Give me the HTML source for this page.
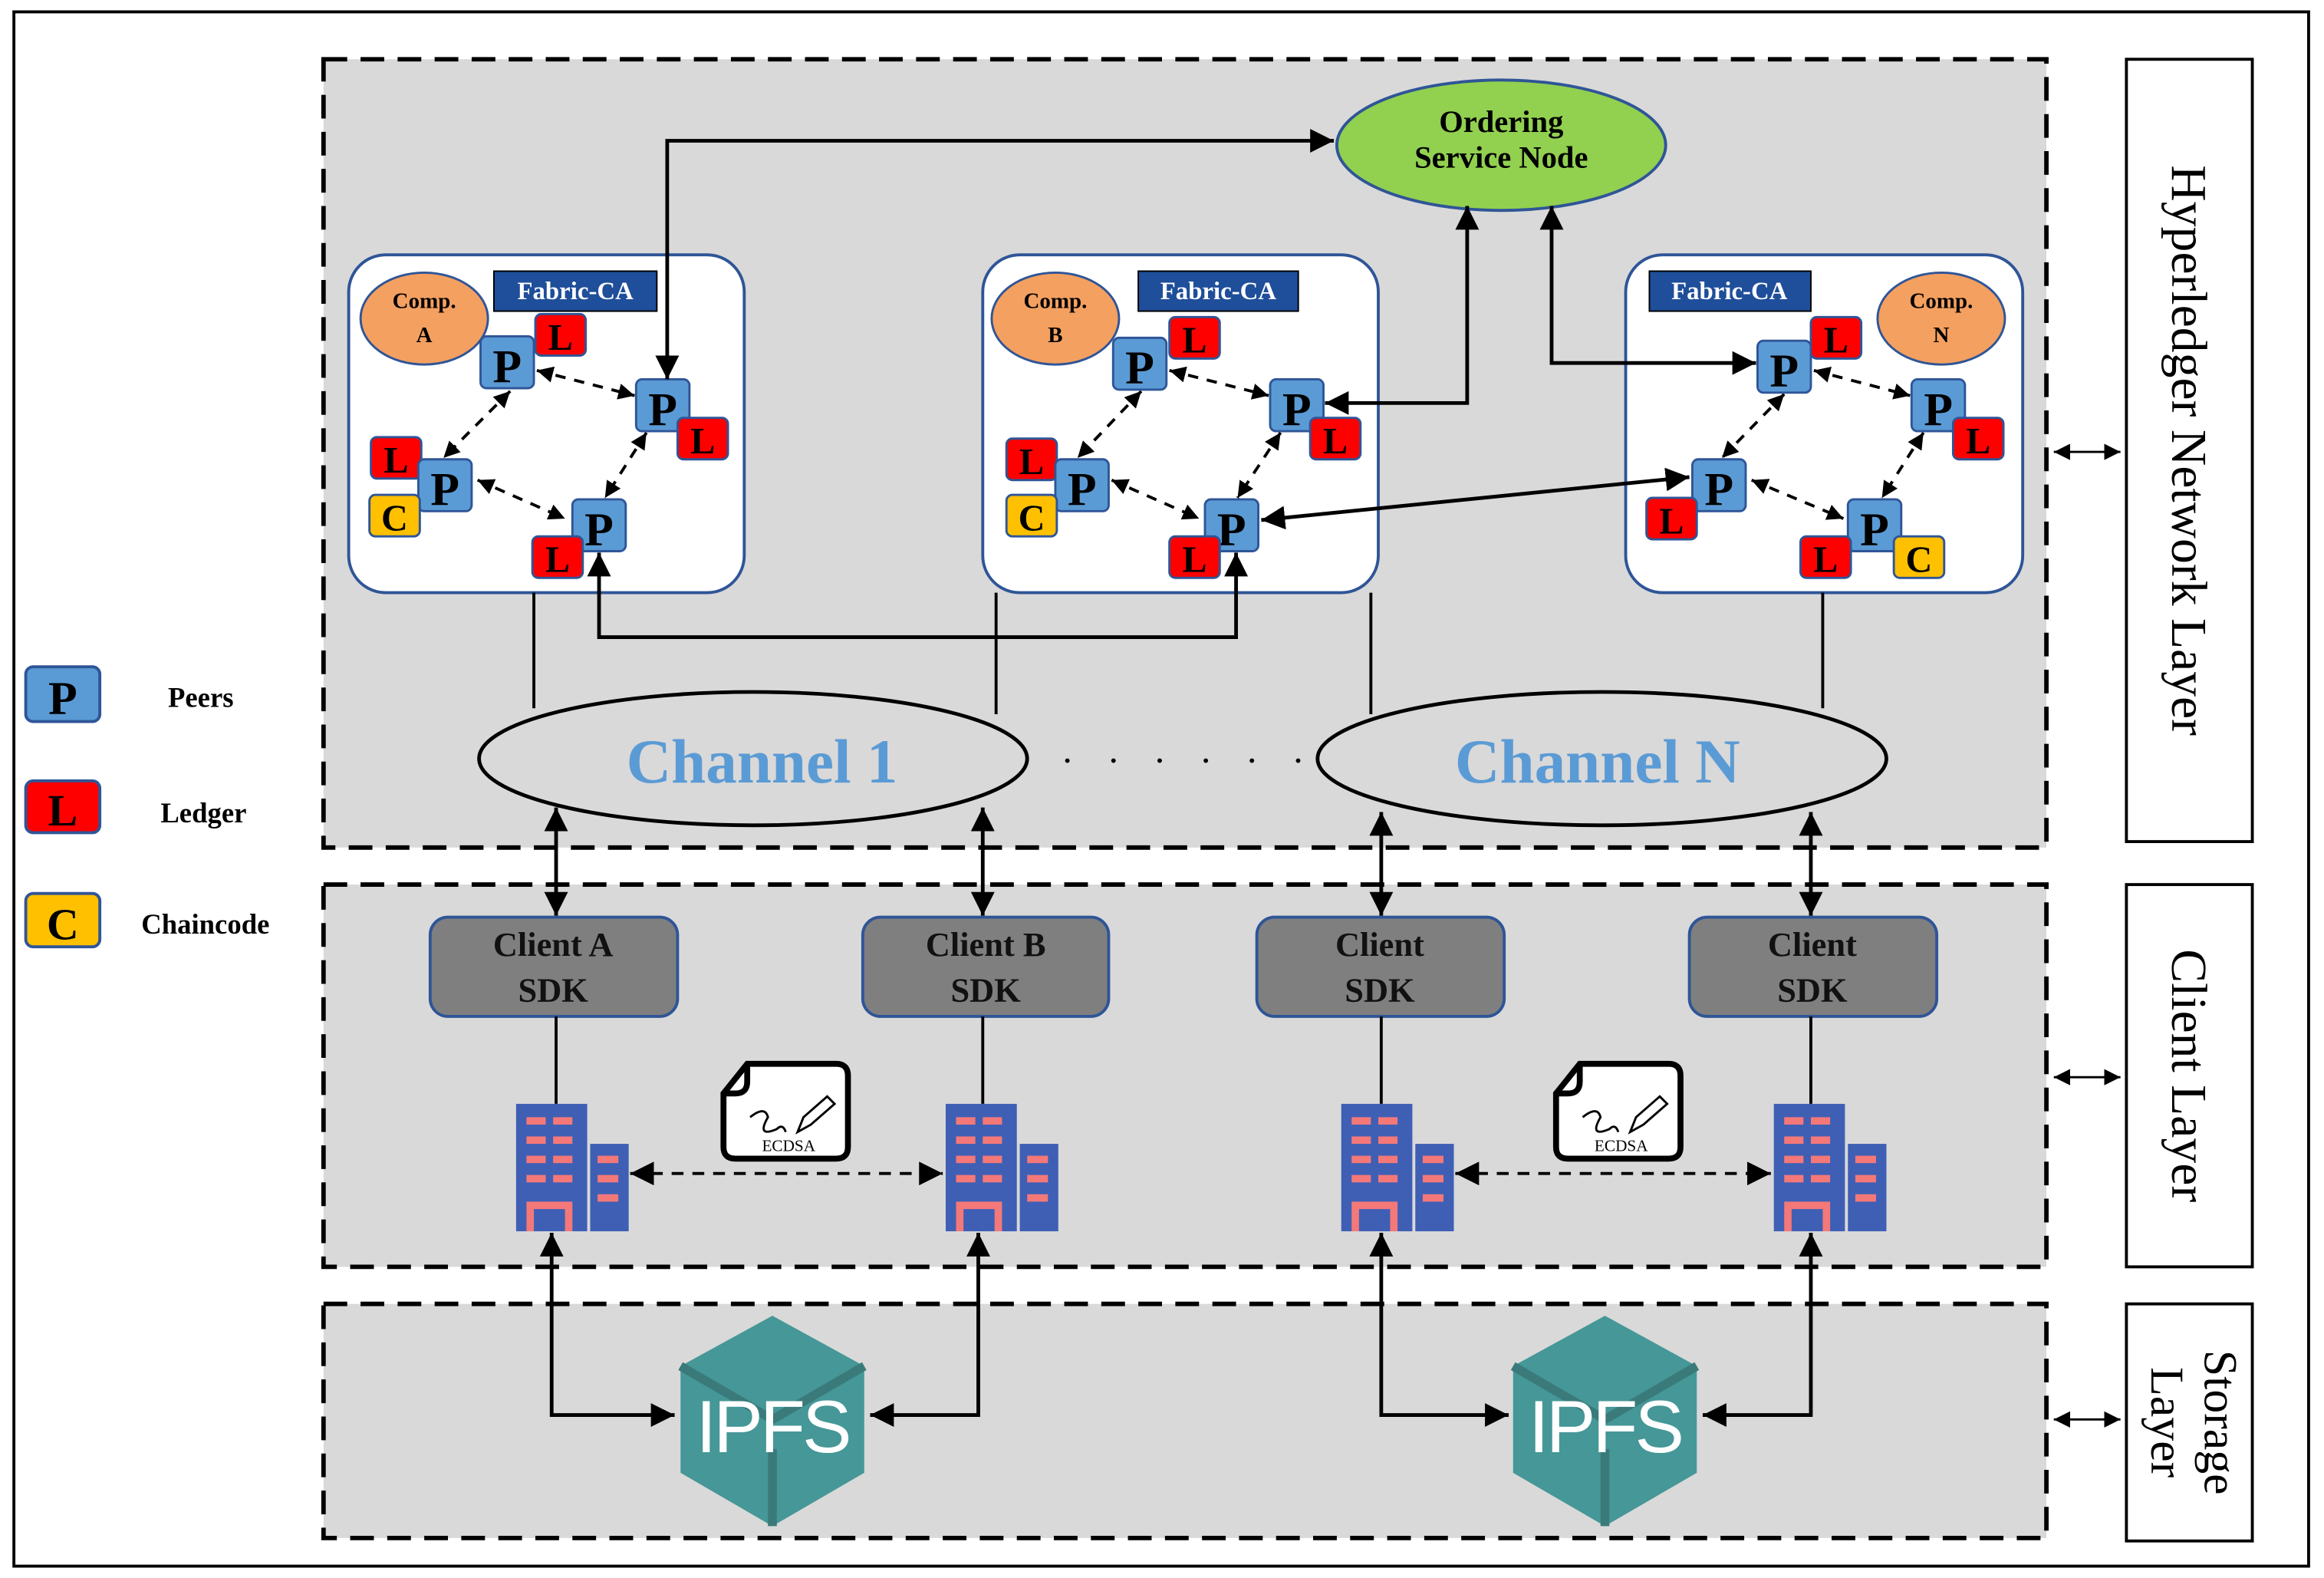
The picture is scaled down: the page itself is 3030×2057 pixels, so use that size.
<!DOCTYPE html>
<html><head><meta charset="utf-8"><style>html,body{margin:0;padding:0;background:#fff}svg{display:block}svg text{font-family:"Liberation Serif",serif}</style></head>
<body>
<svg width="3030" height="2057" viewBox="0 0 1568 1065" xmlns="http://www.w3.org/2000/svg" font-family="'Liberation Serif', serif">
<defs>
<marker id="a" viewBox="0 0 10 10" refX="10" refY="5" markerWidth="16" markerHeight="16" markerUnits="userSpaceOnUse" orient="auto-start-reverse"><path d="M0,0 L10,5 L0,10 z" fill="#000"/></marker>
<marker id="s" viewBox="0 0 10 10" refX="10" refY="5" markerWidth="11" markerHeight="11" markerUnits="userSpaceOnUse" orient="auto-start-reverse"><path d="M0,0 L10,5 L0,10 z" fill="#000"/></marker>
<g id="P"><rect x="0" y="0" width="36" height="35" rx="4" fill="#5b9bd5" stroke="#2f5597" stroke-width="1.5"/><text x="18" y="31" font-size="32" font-weight="bold" text-anchor="middle">P</text></g>
<g id="L"><rect x="0" y="0" width="34" height="28" rx="4" fill="#ff0000" stroke="#2f5597" stroke-width="1.5"/><text x="17" y="24" font-size="25" font-weight="bold" text-anchor="middle">L</text></g>
<g id="C"><rect x="0" y="0" width="34" height="28" rx="4" fill="#ffc000" stroke="#2f5597" stroke-width="1.5"/><text x="17" y="24" font-size="25" font-weight="bold" text-anchor="middle">C</text></g>
<g id="bld"><rect x="0" y="0" width="48" height="86" fill="#3f5fb5"/><rect x="50" y="27" width="26" height="59" fill="#3f5fb5"/>
<g fill="#f47878"><rect x="7" y="9" width="13" height="5"/><rect x="25" y="9" width="13" height="5"/><rect x="7" y="22" width="13" height="5"/><rect x="25" y="22" width="13" height="5"/><rect x="7" y="35" width="13" height="5"/><rect x="25" y="35" width="13" height="5"/><rect x="7" y="48" width="13" height="5"/><rect x="25" y="48" width="13" height="5"/><rect x="55" y="35" width="14" height="5"/><rect x="55" y="48" width="14" height="5"/><rect x="55" y="61" width="14" height="5"/><path d="M7,86 V66 H38 V86 H33 V71 H12 V86z"/></g></g>
<g id="doc"><path d="M18,2 H78 Q86,2 86,10 V58 Q86,66 78,66 H10 Q2,66 2,58 V22 Z" fill="#fff" stroke="#000" stroke-width="4"/><path d="M18,2 V14 Q18,22 10,22 H2" fill="none" stroke="#000" stroke-width="4"/><path d="M20,38 q10,-8 12,0 q-8,14 6,8 q4,-4 6,2" fill="none" stroke="#000" stroke-width="1.5"/><path d="M52,48 l4,-10 l16,-14 l5,5 l-16,14 z" fill="none" stroke="#000" stroke-width="1.5"/><text x="46" y="61" font-size="11" text-anchor="middle">ECDSA</text></g>
<g id="ipfs"><polygon points="0,-70 62,-36 62,36 0,72 -62,36 -62,-36" fill="#469797"/><polyline points="-62,-36 0,0 62,-36" fill="none" stroke="#3a7a7a" stroke-width="6"/><line x1="0" y1="20" x2="0" y2="72" stroke="#3a7a7a" stroke-width="6"/><text x="0" y="22" style="font-family:'Liberation Sans',sans-serif" font-size="50" fill="#fff" text-anchor="middle" letter-spacing="-2">IPFS</text></g>
</defs>
<rect x="0" y="0" width="1568" height="1065" fill="#fff"/>
<rect x="9" y="8" width="1549" height="1049" fill="none" stroke="#000" stroke-width="2"/>
<g fill="#d9d9d9" stroke="#000" stroke-width="3" stroke-dasharray="16,9">
<rect x="218" y="40" width="1163" height="532"/>
<rect x="218" y="597" width="1163" height="258"/>
<rect x="218" y="880" width="1163" height="158"/>
</g>
<g fill="#fff" stroke="#000" stroke-width="2">
<rect x="1435" y="40" width="85" height="528"/><rect x="1435" y="597" width="85" height="258"/><rect x="1435" y="880" width="85" height="160"/>
</g>
<g font-size="34" text-anchor="middle">
<text transform="translate(1478,304) rotate(90)" y="12">Hyperledger Network Layer</text>
<text transform="translate(1478,726) rotate(90)" y="12">Client Layer</text>
<text transform="translate(1478,960) rotate(90)" font-size="32"><tspan x="0" y="-10">Storage</tspan><tspan x="0" y="26">Layer</tspan></text>
</g>
<g stroke="#000" stroke-width="1.5" marker-start="url(#s)" marker-end="url(#s)">
<line x1="1386" y1="305" x2="1431" y2="305"/><line x1="1386" y1="727" x2="1431" y2="727"/><line x1="1386" y1="958" x2="1431" y2="958"/>
</g>
<g fill="#fff" stroke="#2f5597" stroke-width="2"><rect x="235" y="172" width="267" height="228" rx="25"/><rect x="663" y="172" width="267" height="228" rx="25"/><rect x="1097" y="172" width="268" height="228" rx="25"/></g>
<ellipse cx="1013" cy="98" rx="111" ry="44" fill="#92d050" stroke="#2f5597" stroke-width="2"/>
<text x="1013" y="89" font-size="21" font-weight="bold" text-anchor="middle">Ordering</text>
<text x="1013" y="113" font-size="21" font-weight="bold" text-anchor="middle">Service Node</text>
<g>
<ellipse cx="286" cy="215" rx="43" ry="31" fill="#f4a060" stroke="#2f5597" stroke-width="1.5"/>
<text x="286" y="208" font-size="15" font-weight="bold" text-anchor="middle">Comp.</text><text x="286" y="231" font-size="15" font-weight="bold" text-anchor="middle">A</text>
<rect x="333" y="183" width="110" height="27" fill="#1f4e9a" stroke="#000"/><text x="388" y="202" font-size="17" font-weight="bold" fill="#fff" text-anchor="middle">Fabric-CA</text>
</g>
<g>
<ellipse cx="712" cy="215" rx="43" ry="31" fill="#f4a060" stroke="#2f5597" stroke-width="1.5"/>
<text x="712" y="208" font-size="15" font-weight="bold" text-anchor="middle">Comp.</text><text x="712" y="231" font-size="15" font-weight="bold" text-anchor="middle">B</text>
<rect x="768" y="183" width="108" height="27" fill="#1f4e9a" stroke="#000"/><text x="822" y="202" font-size="17" font-weight="bold" fill="#fff" text-anchor="middle">Fabric-CA</text>
</g>
<g>
<ellipse cx="1310" cy="215" rx="43" ry="31" fill="#f4a060" stroke="#2f5597" stroke-width="1.5"/>
<text x="1310" y="208" font-size="15" font-weight="bold" text-anchor="middle">Comp.</text><text x="1310" y="231" font-size="15" font-weight="bold" text-anchor="middle">N</text>
<rect x="1113" y="183" width="109" height="27" fill="#1f4e9a" stroke="#000"/><text x="1167" y="202" font-size="17" font-weight="bold" fill="#fff" text-anchor="middle">Fabric-CA</text>
</g>
<g stroke="#000" stroke-width="2" stroke-dasharray="7,6" marker-start="url(#s)" marker-end="url(#s)">
<line x1="362" y1="250" x2="428" y2="267"/><line x1="344" y1="264" x2="299" y2="309"/><line x1="322" y1="324" x2="381" y2="350"/><line x1="436" y1="292" x2="408" y2="336"/>
<line x1="789" y1="250" x2="856" y2="267"/><line x1="770" y1="264" x2="727" y2="309"/><line x1="750" y1="324" x2="809" y2="350"/><line x1="864" y1="292" x2="835" y2="336"/>
<line x1="1224" y1="250" x2="1289" y2="267"/><line x1="1204" y1="266" x2="1162" y2="309"/><line x1="1182" y1="324" x2="1244" y2="350"/><line x1="1298" y1="292" x2="1270" y2="336"/>
</g>
<use href="#P" x="324" y="227"/><use href="#L" x="361" y="212"/>
<use href="#P" x="429" y="256"/><use href="#L" x="457" y="282"/>
<use href="#L" x="250" y="295"/><use href="#P" x="282" y="310"/><use href="#C" x="249" y="334"/>
<use href="#P" x="386" y="337"/><use href="#L" x="359" y="362"/>
<use href="#P" x="751" y="228"/><use href="#L" x="789" y="214"/>
<use href="#P" x="857" y="256"/><use href="#L" x="884" y="282"/>
<use href="#L" x="679" y="296"/><use href="#P" x="712" y="310"/><use href="#C" x="679" y="334"/>
<use href="#P" x="813" y="337"/><use href="#L" x="789" y="362"/>
<use href="#P" x="1186" y="230"/><use href="#L" x="1222" y="214"/>
<use href="#P" x="1290" y="256"/><use href="#L" x="1318" y="282"/>
<use href="#P" x="1142" y="310"/><use href="#L" x="1111" y="336"/>
<use href="#P" x="1247" y="337"/><use href="#L" x="1215" y="362"/><use href="#C" x="1278" y="362"/>
<g fill="none" stroke="#000" stroke-width="2.5" marker-start="url(#a)" marker-end="url(#a)">
<polyline points="450,256 450,95 900,95"/>
<polyline points="894,272 990,272 990,139"/>
<polyline points="1047,139 1047,245 1185,245"/>
<line x1="851" y1="351" x2="1140" y2="322"/>
<polyline points="404,373 404,430 834,430 834,373"/>
</g>
<g stroke="#000" stroke-width="2"><line x1="360" y1="400" x2="360" y2="478"/><line x1="672" y1="400" x2="672" y2="482"/><line x1="925" y1="400" x2="925" y2="482"/><line x1="1230" y1="400" x2="1230" y2="478"/></g>
<ellipse cx="508" cy="512" rx="185" ry="45" fill="#d9d9d9" stroke="#000" stroke-width="2.5"/>
<ellipse cx="1081" cy="512" rx="192" ry="45" fill="#d9d9d9" stroke="#000" stroke-width="2.5"/>
<text x="514" y="528" font-size="42" font-weight="bold" fill="#5b9bd5" text-anchor="middle">Channel 1</text>
<text x="1078" y="528" font-size="42" font-weight="bold" fill="#5b9bd5" text-anchor="middle">Channel N</text>
<text x="802" y="522" font-size="26" text-anchor="middle" letter-spacing="8">· · · · · ·</text>
<g stroke="#000" stroke-width="2.5" marker-start="url(#a)" marker-end="url(#a)">
<line x1="375" y1="545" x2="375" y2="618"/><line x1="663" y1="545" x2="663" y2="618"/><line x1="932" y1="548" x2="932" y2="618"/><line x1="1222" y1="548" x2="1222" y2="618"/>
</g>
<g fill="#7f7f7f" stroke="#2f5597" stroke-width="2"><rect x="290" y="619" width="167" height="67" rx="12"/><rect x="582" y="619" width="166" height="67" rx="12"/><rect x="848" y="619" width="167" height="67" rx="12"/><rect x="1140" y="619" width="167" height="67" rx="12"/></g>
<g font-size="23" font-weight="bold" text-anchor="middle" fill="#111">
<text x="373" y="645">Client A</text><text x="373" y="676">SDK</text>
<text x="665" y="645">Client B</text><text x="665" y="676">SDK</text>
<text x="931" y="645">Client</text><text x="931" y="676">SDK</text>
<text x="1223" y="645">Client</text><text x="1223" y="676">SDK</text>
</g>
<g stroke="#000" stroke-width="2"><line x1="375" y1="686" x2="375" y2="745"/><line x1="663" y1="686" x2="663" y2="745"/><line x1="932" y1="686" x2="932" y2="745"/><line x1="1222" y1="686" x2="1222" y2="745"/></g>
<use href="#bld" x="348" y="745"/><use href="#bld" x="638" y="745"/><use href="#bld" x="905" y="745"/><use href="#bld" x="1197" y="745"/>
<use href="#doc" x="486" y="716"/><use href="#doc" x="1048" y="716"/>
<g stroke="#000" stroke-width="2" stroke-dasharray="8,6" marker-start="url(#a)" marker-end="url(#a)">
<line x1="425" y1="792" x2="636" y2="792"/><line x1="982" y1="792" x2="1195" y2="792"/>
</g>
<use href="#ipfs" x="521" y="958"/><use href="#ipfs" x="1083" y="958"/>
<g fill="none" stroke="#000" stroke-width="2.5" marker-start="url(#a)" marker-end="url(#a)">
<polyline points="372,832 372,955 455,955"/><polyline points="660,832 660,955 587,955"/>
<polyline points="932,832 932,955 1018,955"/><polyline points="1222,832 1222,955 1149,955"/>
</g>
<g><rect x="17" y="450" width="50" height="37" rx="5" fill="#5b9bd5" stroke="#2f5597" stroke-width="2"/><text x="42" y="482" font-size="32" font-weight="bold" text-anchor="middle">P</text>
<rect x="17" y="527" width="50" height="35" rx="5" fill="#ff0000" stroke="#2f5597" stroke-width="2"/><text x="42" y="557" font-size="30" font-weight="bold" text-anchor="middle">L</text>
<rect x="17" y="603" width="50" height="36" rx="5" fill="#ffc000" stroke="#2f5597" stroke-width="2"/><text x="42" y="634" font-size="30" font-weight="bold" text-anchor="middle">C</text>
<g font-size="19" font-weight="bold"><text x="113" y="477">Peers</text><text x="108" y="555">Ledger</text><text x="95" y="630">Chaincode</text></g></g>
</svg>
</body></html>
